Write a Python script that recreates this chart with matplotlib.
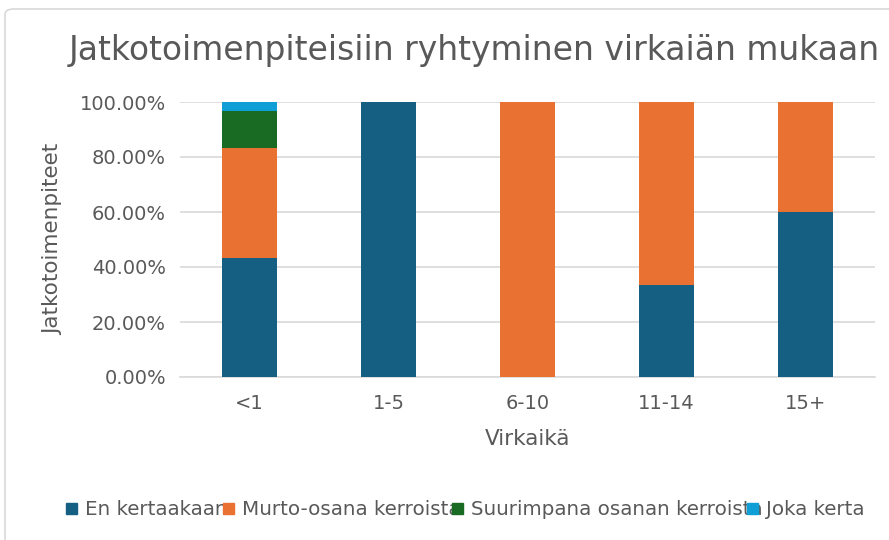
import numpy as np
import matplotlib
matplotlib.use("Agg")
import matplotlib.pyplot as plt
from matplotlib.patches import Rectangle, FancyBboxPatch

plt.rcParams['font.family'] = ['DejaVu Sans']

categories = ['<1', '1-5', '6-10', '11-14', '15+']
series_names = ['En kertaakaar', 'Murto-osana kerroista',
                'Suurimpana osanan kerroista', 'Joka kerta']
en_kertaakaan = [0.4333, 1.0, 0.0, 0.3333, 0.60]
murto_osana = [0.40, 0.0, 1.0, 0.6667, 0.40]
suurimpana = [0.1333, 0.0, 0.0, 0.0, 0.0]
joka_kerta = [0.0334, 0.0, 0.0, 0.0, 0.0]
colors = ['#156082', '#E97132', '#196B24', '#0F9ED5']

text_col = '#595959'
grid_col = '#d9d9d9'

fig = plt.figure(figsize=(8.89, 5.4), dpi=100)
W, H = 889, 540

# chart frame (runs off the right and bottom edges like the screenshot)
fig.patches.append(FancyBboxPatch((5 / W, -0.05), 1.05, 1 - 9 / H + 0.05,
                                  boxstyle='round,pad=0,rounding_size=0.01',
                                  transform=fig.transFigure, fill=False,
                                  edgecolor=grid_col, linewidth=1.2))

ax = fig.add_axes([180 / W, 1 - 377 / H, (875 - 180) / W, (377 - 102) / H])

x = np.arange(len(categories))
bottom = np.zeros(len(categories))
for vals, col in zip([en_kertaakaan, murto_osana, suurimpana, joka_kerta], colors):
    ax.bar(x, vals, width=0.4, bottom=bottom, color=col, zorder=3)
    bottom += np.array(vals)

ax.set_xlim(-0.5, len(categories) - 0.5)
ax.set_ylim(0, 1.0)
ax.set_yticks(np.arange(0, 1.01, 0.2))
ax.set_yticklabels(['%.2f%%' % (v * 100) for v in np.arange(0, 1.01, 0.2)])
ax.set_xticks(x)
ax.set_xticklabels(categories)
ax.grid(axis='y', color=grid_col, linewidth=1.2, zorder=0)
for s in ['top', 'right', 'left']:
    ax.spines[s].set_visible(False)
ax.spines['bottom'].set_color(grid_col)
ax.spines['bottom'].set_linewidth(1.2)
ax.tick_params(length=0, labelsize=14, colors=text_col)
ax.tick_params(axis='y', pad=10)
ax.tick_params(axis='x', pad=12)

ax.set_ylabel('Jatkotoimenpiteet', fontsize=15.5, color=text_col, labelpad=12)
ax.set_xlabel('Virkaikä', fontsize=15.5, color=text_col, labelpad=12)

fig.text(474 / W, 1 - 60 / H, 'Jatkotoimenpiteisiin ryhtyminen virkaiän mukaan',
         ha='center', va='baseline', fontsize=23.8, color=text_col)

# legend
sq_x = [66, 223, 452, 747]
for name, col, sx in zip(series_names, colors, sq_x):
    fig.patches.append(Rectangle((sx / W, 1 - 514 / H), 11 / W, 11 / H,
                                 transform=fig.transFigure, color=col, zorder=5))
    fig.text((sx + 19) / W, 1 - 515 / H, name, ha='left', va='baseline',
             fontsize=14.3, color=text_col)

fig.savefig('out.png', dpi=100)
